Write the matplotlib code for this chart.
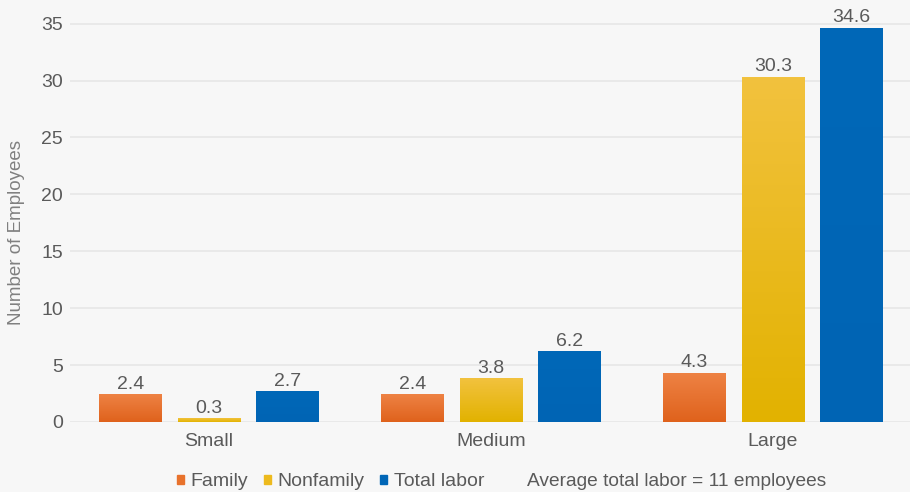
import numpy as np
import matplotlib.pyplot as plt
from matplotlib.patches import Patch
from matplotlib.colors import LinearSegmentedColormap

plt.rcParams['font.family'] = ['Liberation Sans', 'DejaVu Sans']

# Data
groups = ["Small", "Medium", "Large"]
family = [2.4, 2.4, 4.3]
nonfamily = [0.3, 3.8, 30.3]
total_labor = [2.7, 6.2, 34.6]
series_names = ["Family", "Nonfamily", "Total labor"]
colors = ["#E8722C", "#EDBA1E", "#0066B6"]
# bottom -> top shades for the bar fill
shades = [("#DF621C", "#EE8244"), ("#E2B200", "#F2C23E"), ("#0064B4", "#0068B8")]
note = "Average total labor = 11 employees"

text_color = "#5a5a5a"
bg = "#f7f7f7"

fig = plt.figure(figsize=(9.1, 4.92), dpi=100, facecolor=bg)
ax = fig.add_axes([0.077, 0.1423, 0.923, 0.856], facecolor=bg)

x = np.arange(len(groups))
width = 0.223
step = 0.278
grad = np.linspace(0, 1, 256).reshape(-1, 1)

for i, (vals, name, c) in enumerate(zip([family, nonfamily, total_labor], series_names, colors)):
    bars = ax.bar(x + (i - 1) * step, vals, width, color=c, label=name, zorder=3)
    cmap = LinearSegmentedColormap.from_list(name, shades[i])
    for b, v in zip(bars, vals):
        x0 = b.get_x()
        ax.imshow(grad, extent=[x0, x0 + b.get_width(), 0, v], origin="lower",
                  cmap=cmap, aspect="auto", zorder=3.5, interpolation="bilinear")
        ax.text(x0 + b.get_width() / 2, v + 0.15, f"{v:.1f}",
                ha="center", va="bottom", fontsize=14, color=text_color)

ax.set_xlim(-0.493, 2.486)
ax.set_ylim(0, 37)
ax.set_yticks(range(0, 36, 5))
ax.set_xticks(x)
ax.set_xticklabels(groups)
ax.tick_params(axis="both", length=0, labelsize=14, colors=text_color)
ax.tick_params(axis="x", pad=8)
ax.tick_params(axis="y", pad=5)
ax.yaxis.grid(True, color="#e6e6e6", linewidth=1.1, zorder=0)
for s in ax.spines.values():
    s.set_visible(False)

ax.set_ylabel("Number of Employees", fontsize=13.5, color="#808080")
ax.yaxis.set_label_coords(-0.054, 0.45)

handles = [Patch(color=c) for c in colors]
fig.legend(handles, series_names, loc="center left", bbox_to_anchor=(0.194, 0.021),
           ncol=3, frameon=False, fontsize=14, labelcolor=text_color,
           borderpad=0, borderaxespad=0,
           handlelength=0.36, handleheight=0.36, handletextpad=0.35, columnspacing=0.8)
fig.text(0.579, 0.021, note, ha="left", va="center", fontsize=13.8, color=text_color)

fig.savefig("out.png", dpi=100, facecolor=bg)
